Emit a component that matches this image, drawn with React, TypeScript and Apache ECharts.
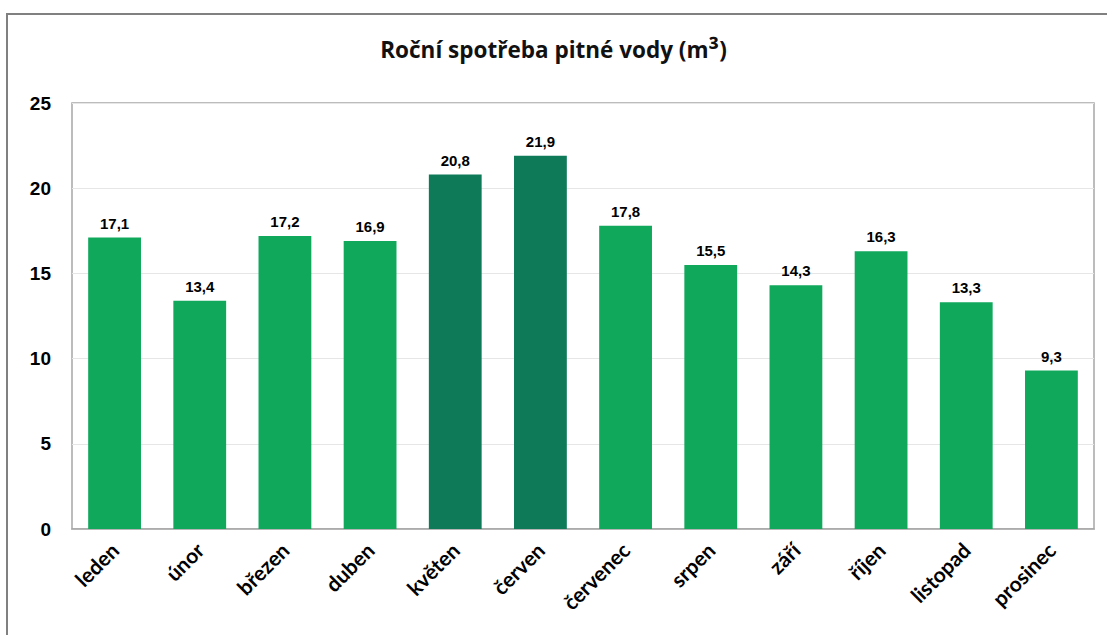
import React, { useEffect, useRef } from "react";
import * as echarts from "echarts";

const titleMain = "Roční spotřeba pitné vody (m";
const titleSup = "³";
const titleEnd = ")";
const months = ["leden", "únor", "březen", "duben", "květen", "červen", "červenec", "srpen", "září", "říjen", "listopad", "prosinec"];
const values = [17.1, 13.4, 17.2, 16.9, 20.8, 21.9, 17.8, 15.5, 14.3, 16.3, 13.3, 9.3];
const highlighted = ["květen", "červen"];
const yTicks = { min: 0, max: 25, interval: 5 };

const LIGHT = "#10a95c";
const DARK = "#0e7a58";

export default function App() {
  const ref = useRef<HTMLDivElement>(null);
  useEffect(() => {
    if (!ref.current) return;
    const chart = echarts.init(ref.current, undefined, { renderer: "svg" });
    chart.setOption({
      animation: false,
      backgroundColor: "#ffffff",
      title: {
        text: `${titleMain}{sup|${titleSup}}${titleEnd}`,
        left: "center",
        top: 30,
        textStyle: {
          fontFamily: "Open Sans",
          fontWeight: "bold",
          fontSize: 22.5,
          color: "#111",
          rich: {
            sup: { fontFamily: "Open Sans", fontWeight: "bold", fontSize: 28, color: "#111" },
          },
        },
      },
      graphic: [
        {
          type: "rect",
          shape: { x: 7, y: 14, width: 1120, height: 640 },
          style: { fill: "none", stroke: "#808080", lineWidth: 2 },
          silent: true,
        },
      ],
      grid: {
        left: 72,
        right: 13,
        top: 103,
        bottom: 106,
        show: true,
        borderColor: "#a6a6a6",
        borderWidth: 1.5,
        containLabel: false,
      },
      xAxis: {
        type: "category",
        data: months,
        axisLine: { show: true, lineStyle: { color: "#a6a6a6", width: 1.5 } },
        axisTick: { show: false },
        axisLabel: {
          rotate: 45,
          margin: 17,
          fontFamily: "Lato",
          fontWeight: "bold",
          fontSize: 21,
          color: "#000",
          interval: 0,
        },
      },
      yAxis: {
        type: "value",
        min: yTicks.min,
        max: yTicks.max,
        interval: yTicks.interval,
        axisLine: { show: false },
        axisTick: { show: false },
        splitLine: { show: true, lineStyle: { color: "#e6e6e6", width: 1 } },
        axisLabel: {
          margin: 21,
          fontFamily: "Liberation Sans",
          fontWeight: "bold",
          fontSize: 19,
          color: "#000",
        },
      },
      series: [
        {
          type: "bar",
          barWidth: "62%",
          data: months.map((m, i) => ({
            value: values[i],
            itemStyle: { color: highlighted.includes(m) ? DARK : LIGHT },
          })),
          label: {
            show: true,
            position: "top",
            distance: 7,
            formatter: (p: any) => String(p.value.toFixed(1)).replace(".", ","),
            fontFamily: "Liberation Sans",
            fontWeight: "bold",
            fontSize: 15,
            color: "#000",
          },
        },
      ],
    });
    return () => chart.dispose();
  }, []);
  return (
    <div
      ref={ref}
      style={{ position: "fixed", left: 0, top: 0, width: 1107, height: 635 }}
    />
  );
}
